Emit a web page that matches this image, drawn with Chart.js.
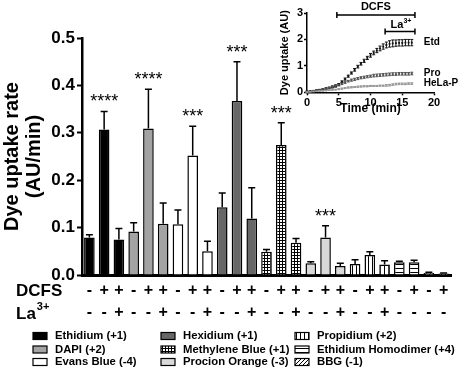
<!DOCTYPE html>
<html>
<head>
<meta charset="utf-8">
<script src="https://cdn.jsdelivr.net/npm/chart.js@4.4.1/dist/chart.umd.min.js"></script>
<style>
  html, body { margin: 0; padding: 0; background: #fff; }
  #wrap { position: relative; width: 459px; height: 376px; }
  #main { position: absolute; left: 0; top: 0; }
  #inset { position: absolute; left: 270px; top: 0; }
</style>
</head>
<body>
<div id="wrap">
  <canvas id="main" width="459" height="376"></canvas>
  <canvas id="inset" width="189" height="120"></canvas>
</div>
<script>
const FONT = "Arial, 'Liberation Sans', Helvetica, sans-serif";
Chart.defaults.font.family = FONT;
Chart.defaults.color = "#000";

// main bar chart data
const dyes = ["Ethidium (+1)", "DAPI (+2)", "Evans Blue (-4)", "Hexidium (+1)", "Methylene Blue (+1)",
    "Procion Orange (-3)", "Propidium (+2)", "Ethidium Homodimer (+4)", "BBG (-1)"];
const groupSizes = [3, 3, 3, 3, 3, 3, 3, 2, 2];
const dcfs = ["-", "+", "+", "-", "+", "+", "-", "+", "+", "-", "+", "+", "-", "+", "+", "-", "+", "+", "-", "+", "+", "-", "+", "-", "+"];
const la3 = ["-", "-", "+", "-", "-", "+", "-", "-", "+", "-", "-", "+", "-", "-", "+", "-", "-", "+", "-", "-", "+", "-", "-", "-", "-"];
const rates = [0.079, 0.307, 0.075, 0.092, 0.309, 0.108, 0.107, 0.252, 0.050, 0.143, 0.367, 0.119,
    0.049, 0.274, 0.068, 0.025, 0.079, 0.019, 0.023, 0.042, 0.022, 0.027, 0.027, 0.004, 0.003];
const rateErr = [0.006, 0.038, 0.023, 0.018, 0.083, 0.044, 0.030, 0.062, 0.021, 0.030, 0.083, 0.065,
    0.005, 0.047, 0.009, 0.003, 0.025, 0.006, 0.009, 0.007, 0.008, 0.002, 0.004, 0.002, 0.001];
const stars = ["", "****", "", "", "****", "", "", "***", "", "", "***", "", "", "***", "", "", "***", "", "", "", "", "", "", "", ""];
const yTicks = [0, 0.1, 0.2, 0.3, 0.4, 0.5];

// inset time course
const minutes = [0, 0.5, 1, 1.5, 2, 2.5, 3, 3.5, 4, 4.5, 5, 5.5, 6, 6.5, 7, 7.5, 8, 8.5, 9, 9.5, 10, 10.5,
    11, 11.5, 12, 12.5, 13, 13.5, 14, 14.5, 15, 15.5, 16, 16.5];
const etd = [0.02, 0.03, 0.05, 0.07, 0.09, 0.11, 0.14, 0.17, 0.21, 0.25, 0.30, 0.40, 0.50, 0.61, 0.73, 0.85,
    0.97, 1.08, 1.19, 1.30, 1.40, 1.49, 1.58, 1.66, 1.73, 1.79, 1.83, 1.85, 1.86, 1.87, 1.87, 1.88, 1.88, 1.88];
const etdErr = [0.02, 0.02, 0.02, 0.02, 0.02, 0.02, 0.03, 0.03, 0.03, 0.03, 0.03, 0.03, 0.04, 0.04, 0.04, 0.05,
    0.05, 0.05, 0.06, 0.06, 0.07, 0.07, 0.08, 0.09, 0.10, 0.11, 0.12, 0.13, 0.12, 0.12, 0.12, 0.12, 0.12, 0.12];
const pro = [0.02, 0.03, 0.05, 0.07, 0.09, 0.11, 0.13, 0.16, 0.19, 0.22, 0.27, 0.32, 0.37, 0.42, 0.46, 0.49,
    0.52, 0.55, 0.57, 0.59, 0.61, 0.63, 0.64, 0.65, 0.66, 0.67, 0.68, 0.69, 0.69, 0.70, 0.70, 0.70, 0.70, 0.71];
const proErr = [0.02, 0.02, 0.02, 0.02, 0.02, 0.02, 0.02, 0.02, 0.03, 0.03, 0.03, 0.03, 0.03, 0.03, 0.04, 0.04,
    0.04, 0.04, 0.04, 0.04, 0.04, 0.05, 0.05, 0.05, 0.05, 0.05, 0.05, 0.05, 0.05, 0.05, 0.05, 0.05, 0.05, 0.05];
const hela = [0.01, 0.02, 0.03, 0.04, 0.05, 0.06, 0.07, 0.08, 0.09, 0.10, 0.12, 0.14, 0.16, 0.18, 0.19, 0.20,
    0.21, 0.22, 0.23, 0.23, 0.24, 0.24, 0.24, 0.25, 0.25, 0.26, 0.27, 0.29, 0.31, 0.32, 0.32, 0.32, 0.33, 0.33];
const helaErr = [0.01, 0.01, 0.01, 0.01, 0.01, 0.01, 0.01, 0.01, 0.01, 0.01, 0.02, 0.02, 0.02, 0.02, 0.02, 0.02,
    0.02, 0.02, 0.02, 0.02, 0.02, 0.02, 0.02, 0.02, 0.02, 0.03, 0.03, 0.03, 0.03, 0.03, 0.03, 0.03, 0.03, 0.03];

const mainCanvas = document.getElementById("main");
const mainCtx = mainCanvas.getContext("2d");

function pattern(kind) {
    const c = document.createElement("canvas");
    const g = c.getContext("2d");
    const n = kind === "grid" ? 3 : 4;
    c.width = n; c.height = n;
    g.fillStyle = "#fff";
    g.fillRect(0, 0, n, n);
    g.fillStyle = "#000";
    if (kind === "grid") {
        g.fillRect(0, 0, n, 1);
        g.fillRect(0, 0, 1, n);
    } else if (kind === "vert") {
        g.fillRect(0, 0, 1, n);
    } else if (kind === "horiz") {
        g.fillRect(0, 0, n, 1);
    } else if (kind === "diag") {
        g.strokeStyle = "#000";
        g.lineWidth = 1;
        g.beginPath();
        g.moveTo(0, 4); g.lineTo(4, 0);
        g.moveTo(-1, 1); g.lineTo(1, -1);
        g.moveTo(3, 5); g.lineTo(5, 3);
        g.stroke();
    }
    return mainCtx.createPattern(c, "repeat");
}

const fills = ["#000", "#a3a3a3", "#fff", "#676767", pattern("grid"), "#d9d9d9",
    pattern("vert"), pattern("horiz"), pattern("diag")];

let start = 0;
const datasets = dyes.map(function (name, i) {
    const from = start;
    start += groupSizes[i];
    return {
        label: name,
        data: rates.map((v, j) => (j >= from && j < from + groupSizes[i]) ? v : null),
        backgroundColor: fills[i],
        borderColor: "#000",
        borderWidth: 1.5,
        barPercentage: 0.72,
        categoryPercentage: 1,
        grouped: false
    };
});

const mainExtras = {
    id: "mainExtras",
    afterDatasetsDraw(chart) {
        const ctx = chart.ctx;
        const y = chart.scales.y;
        ctx.save();
        ctx.strokeStyle = "#000";
        ctx.fillStyle = "#000";
        ctx.lineWidth = 1.5;
        chart.data.datasets.forEach(function (ds, di) {
            chart.getDatasetMeta(di).data.forEach(function (bar, j) {
                if (ds.data[j] == null) return;
                const top = y.getPixelForValue(rates[j] + rateErr[j]);
                ctx.beginPath();
                ctx.moveTo(bar.x, bar.y);
                ctx.lineTo(bar.x, top);
                ctx.moveTo(bar.x - 3.5, top);
                ctx.lineTo(bar.x + 3.5, top);
                ctx.stroke();
                if (stars[j]) {
                    ctx.font = "18px " + FONT;
                    ctx.textAlign = "center";
                    ctx.textBaseline = "alphabetic";
                    ctx.fillText(stars[j], bar.x, top - 4);
                }
            });
        });
        // row captions
        ctx.textAlign = "left";
        ctx.textBaseline = "middle";
        ctx.font = "bold 17px " + FONT;
        ctx.fillText("DCFS", 16, 291);
        ctx.fillText("La", 16, 314);
        const w = ctx.measureText("La").width;
        ctx.font = "bold 11px " + FONT;
        ctx.fillText("3+", 16 + w + 1, 307);
        // legend, three columns
        const colX = [33, 161, 295];
        const rowY = [336, 349.5, 362];
        ctx.font = "bold 11.3px " + FONT;
        ctx.lineWidth = 1.2;
        dyes.forEach(function (name, i) {
            const bx = colX[Math.floor(i / 3)];
            const by = rowY[i % 3];
            ctx.fillStyle = fills[i];
            ctx.fillRect(bx, by - 3.5, 14, 7);
            ctx.strokeRect(bx, by - 3.5, 14, 7);
            ctx.fillStyle = "#000";
            ctx.fillText(name, bx + 22, by);
        });
        ctx.restore();
    }
};

new Chart(mainCanvas, {
    type: "bar",
    data: {
        labels: dcfs.map((d, i) => [d, la3[i]]),
        datasets: datasets
    },
    options: {
        responsive: false,
        animation: false,
        layout: {padding: {top: 38, right: 8, left: 0, bottom: 0}},
        plugins: {legend: {display: false}, tooltip: {enabled: false}},
        scales: {
            x: {
                grid: {display: false, drawTicks: false},
                border: {color: "#000", width: 3},
                ticks: {
                    color: "#000",
                    font: {family: FONT, weight: "bold", size: 16, lineHeight: 1.375},
                    padding: 5,
                    autoSkip: false,
                    maxRotation: 0,
                    minRotation: 0
                },
                afterFit: function (s) { s.height = 101; }
            },
            y: {
                min: 0,
                max: 0.5,
                afterBuildTicks: function (s) { s.ticks = yTicks.map(v => ({value: v})); },
                grid: {drawOnChartArea: false, drawTicks: true, tickLength: 5, tickColor: "#000", tickWidth: 2},
                border: {color: "#000", width: 2.5},
                ticks: {
                    color: "#000",
                    padding: 2,
                    font: {family: FONT, weight: "bold", size: 17},
                    callback: v => Number(v).toFixed(1)
                },
                title: {
                    display: true,
                    text: ["Dye uptake rate", "(AU/min)"],
                    color: "#000",
                    font: {family: FONT, weight: "bold", size: 20, lineHeight: 1.1},
                    padding: {top: 1, bottom: 0}
                },
                afterFit: function (s) { s.width = 82; }
            }
        }
    },
    plugins: [mainExtras]
});

// inset
const insetExtras = {
    id: "insetExtras",
    afterDatasetsDraw(chart) {
        const ctx = chart.ctx;
        const x = chart.scales.x;
        const y = chart.scales.y;
        ctx.save();
        ctx.lineWidth = 1;
        chart.data.datasets.forEach(function (ds) {
            ctx.strokeStyle = ds.borderColor;
            ds.data.forEach(function (p, i) {
                const px = x.getPixelForValue(p.x);
                const hi = y.getPixelForValue(p.y + ds.err[i]);
                const lo = y.getPixelForValue(Math.max(0, p.y - ds.err[i]));
                ctx.beginPath();
                ctx.moveTo(px, lo); ctx.lineTo(px, hi);
                ctx.moveTo(px - 1.5, hi); ctx.lineTo(px + 1.5, hi);
                ctx.moveTo(px - 1.5, lo); ctx.lineTo(px + 1.5, lo);
                ctx.stroke();
            });
        });
        // treatment brackets
        ctx.strokeStyle = "#000";
        ctx.fillStyle = "#000";
        ctx.lineWidth = 1.5;
        function bracket(t0, t1, yy) {
            const a = x.getPixelForValue(t0), b = x.getPixelForValue(t1);
            ctx.beginPath();
            ctx.moveTo(a, yy); ctx.lineTo(b, yy);
            ctx.moveTo(a, yy - 3); ctx.lineTo(a, yy + 3);
            ctx.moveTo(b, yy - 3); ctx.lineTo(b, yy + 3);
            ctx.stroke();
            return (a + b) / 2;
        }
        const m1 = bracket(4.7, 17, 15);
        const m2 = bracket(12.3, 17, 31.5);
        ctx.textAlign = "center";
        ctx.textBaseline = "middle";
        ctx.font = "bold 11px " + FONT;
        ctx.fillText("DCFS", m1, 7);
        const lw = ctx.measureText("La").width;
        ctx.fillText("La", m2 - 3, 25);
        ctx.font = "bold 7px " + FONT;
        ctx.textAlign = "left";
        ctx.fillText("3+", m2 - 3 + lw / 2, 21);
        // axis title under the time ticks
        ctx.font = "bold 12px " + FONT;
        ctx.textAlign = "center";
        ctx.fillText("Time (min)", (chart.chartArea.left + chart.chartArea.right) / 2, 109);
        // series names
        ctx.textAlign = "left";
        ctx.font = "bold 10px " + FONT;
        const lx = x.getPixelForValue(18.4);
        chart.data.datasets.forEach(function (ds) {
            const last = ds.data[ds.data.length - 1];
            ctx.fillText(ds.label, lx, y.getPixelForValue(last.y));
        });
        ctx.restore();
    }
};

function series(name, vals, errs, color) {
    return {
        label: name,
        data: minutes.map((t, i) => ({x: t, y: vals[i]})),
        err: errs,
        backgroundColor: color,
        borderColor: color,
        pointStyle: "rect",
        pointRadius: 1.3,
        pointBorderWidth: 0,
        showLine: false
    };
}

new Chart(document.getElementById("inset"), {
    type: "scatter",
    data: {
        datasets: [
            series("Etd", etd, etdErr, "#111"),
            series("Pro", pro, proErr, "#555"),
            series("HeLa-P", hela, helaErr, "#9a9a9a")
        ]
    },
    options: {
        responsive: false,
        animation: false,
        layout: {padding: {top: 13, right: 25, left: 0, bottom: 0}},
        plugins: {legend: {display: false}, tooltip: {enabled: false}},
        scales: {
            x: {
                type: "linear",
                min: 0,
                max: 20,
                ticks: {stepSize: 5, padding: 1, color: "#000", font: {family: FONT, weight: "bold", size: 11}},
                grid: {drawOnChartArea: false, tickLength: 3, tickColor: "#000", tickWidth: 1.5},
                border: {color: "#000", width: 1.5},
                afterFit: function (s) { s.height = 27.7; }
            },
            y: {
                min: 0,
                max: 3,
                ticks: {stepSize: 1, padding: 1, color: "#000", font: {family: FONT, weight: "bold", size: 11}},
                grid: {drawOnChartArea: false, tickLength: 3, tickColor: "#000", tickWidth: 1.5},
                border: {color: "#000", width: 1.5},
                title: {
                    display: true,
                    text: "Dye uptake (AU)",
                    color: "#000",
                    font: {family: FONT, weight: "bold", size: 11, lineHeight: 1.2},
                    padding: {top: 8.5, bottom: 0}
                },
                afterFit: function (s) { s.width = 37; }
            }
        }
    },
    plugins: [insetExtras]
});
</script>
</body>
</html>
